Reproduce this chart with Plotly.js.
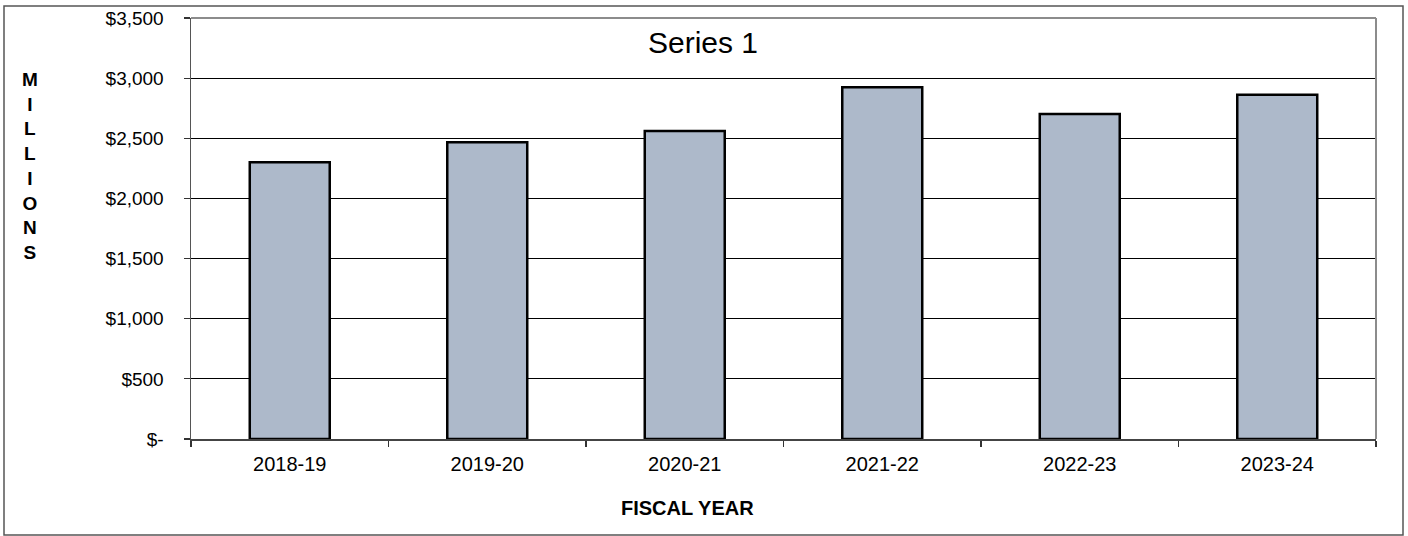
<!DOCTYPE html>
<html>
<head>
<meta charset="utf-8">
<script src="https://cdn.plot.ly/plotly-3.0.1.min.js"></script>
<style>html,body{margin:0;padding:0;background:#fff;}#chart{width:1408px;height:536px;}</style>
</head>
<body>
<div id="chart"></div>
<script>
var categories = ["2018-19", "2019-20", "2020-21", "2021-22", "2022-23", "2023-24"];
var values = [2300, 2468, 2560, 2925, 2702, 2862];
var yTickVals = [0, 500, 1000, 1500, 2000, 2500, 3000, 3500];
var yTickText = ["$-", "$500", "$1,000", "$1,500", "$2,000", "$2,500", "$3,000", "$3,500"];
var seriesName = "Series 1";
var xTitle = "FISCAL YEAR";
var yTitle = "MILLIONS";

var W = 1408, H = 536;
var mL = 191, mR = 32, mT = 18, mB = 97;
var pw = W - mL - mR, ph = H - mT - mB;
function px(x) { return (x - mL) / pw; }
function py(y) { return (H - mB - y) / ph; }

var font = "Liberation Sans, Arial, sans-serif";

var trace = {
  type: "bar",
  x: categories,
  y: values,
  name: seriesName,
  marker: { color: "#adb9ca", line: { color: "#000000", width: 2.5 } },
  hoverinfo: "x+y"
};

var layout = {
  width: W, height: H,
  margin: { l: mL, r: mR, t: mT, b: mB },
  paper_bgcolor: "#ffffff",
  plot_bgcolor: "#ffffff",
  showlegend: false,
  bargap: 0.595,
  font: { family: font, color: "#000000" },
  xaxis: {
    type: "category",
    tickson: "boundaries",
    ticks: "outside",
    ticklen: 6,
    tickcolor: "#333333",
    tickwidth: 1.2,
    showline: true,
    linecolor: "#444444",
    linewidth: 1.5,
    showgrid: false,
    ticklabelstandoff: 6,
    tickfont: { family: font, size: 20, color: "#000000" },
    fixedrange: true
  },
  yaxis: {
    range: [0, 3500],
    tickvals: yTickVals,
    ticktext: yTickText,
    ticks: "outside",
    ticklen: 6,
    tickcolor: "#333333",
    tickwidth: 1.2,
    showline: true,
    linecolor: "#555555",
    linewidth: 1.5,
    showgrid: true,
    gridcolor: "#000000",
    gridwidth: 1,
    zeroline: false,
    ticklabelstandoff: 16,
    tickfont: { family: font, size: 19, color: "#000000" },
    fixedrange: true
  },
  shapes: [
    { type: "rect", xref: "paper", yref: "paper", x0: px(4), x1: px(1403), y0: py(535), y1: py(6),
      line: { color: "#555555", width: 1.5 }, layer: "below" },
    { type: "line", xref: "paper", yref: "paper", x0: 0, x1: 1, y0: 1, y1: 1,
      line: { color: "#8c8c8c", width: 2 } },
    { type: "line", xref: "paper", yref: "paper", x0: 1, x1: 1, y0: 0, y1: 1,
      line: { color: "#8c8c8c", width: 2 } }
  ],
  annotations: [
    { text: seriesName, xref: "paper", yref: "paper", x: px(703), y: py(43),
      xanchor: "center", yanchor: "middle", showarrow: false,
      font: { family: font, size: 30, color: "#000000" } },
    { text: xTitle, xref: "paper", yref: "paper", x: px(687), y: py(508),
      xanchor: "center", yanchor: "middle", showarrow: false,
      font: { family: font, size: 20, color: "#000000", weight: "bold" } },
    { text: "<b>" + yTitle.split("").join("<br>") + "</b>", xref: "paper", yref: "paper", x: px(30), y: py(166),
      xanchor: "center", yanchor: "middle", showarrow: false,
      font: { family: font, size: 19, color: "#000000" } }
  ]
};

Plotly.newPlot("chart", [trace], layout, { displayModeBar: false, staticPlot: true });
</script>
</body>
</html>
